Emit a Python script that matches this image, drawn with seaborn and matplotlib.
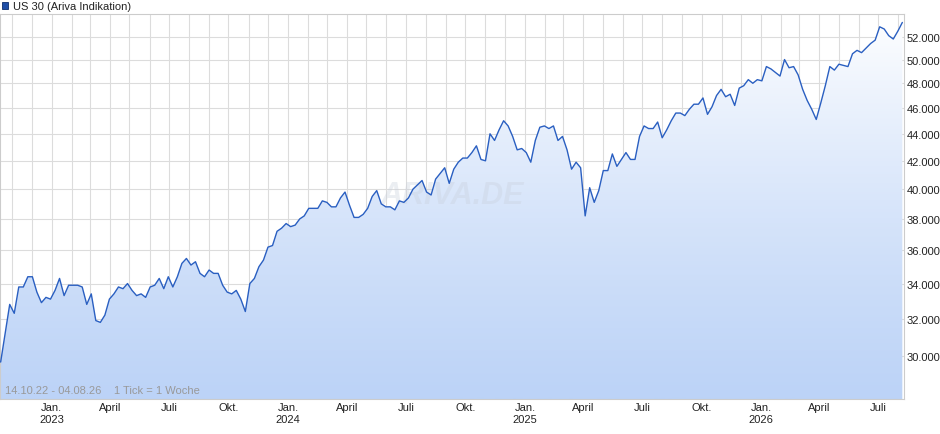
import numpy as np
import pandas as pd
import matplotlib
matplotlib.use("Agg")
import matplotlib.pyplot as plt
import matplotlib.dates as mdates
from matplotlib.ticker import FixedLocator, FuncFormatter, NullFormatter
from matplotlib.colors import LinearSegmentedColormap
import seaborn as sns

start_date = "2022-10-14"
values_k = [
 29.7, 31.2, 32.8, 32.3, 33.8, 33.8, 34.4, 34.4, 33.5, 32.9, 33.2, 33.1, 33.6, 34.3, 33.3, 33.9, 33.9, 33.9, 33.8, 32.8,
 33.4, 31.9, 31.8, 32.2, 33.1, 33.4, 33.8, 33.7, 34.0, 33.6, 33.3, 33.4, 33.2, 33.8, 33.9, 34.3, 33.7, 34.4, 33.8, 34.4,
 35.2, 35.5, 35.1, 35.3, 34.6, 34.4, 34.8, 34.6, 34.6, 33.9, 33.5, 33.4, 33.6,
 33.1, 32.4, 34.0, 34.3, 35.0, 35.4, 36.2, 36.3, 37.2, 37.4, 37.7, 37.5, 37.6, 38.0, 38.2, 38.7, 38.7, 38.7, 39.2, 39.1,
 38.8, 38.8, 39.4, 39.8, 38.9, 38.1, 38.1, 38.3, 38.7, 39.5, 39.9, 39.0, 38.8, 38.8, 38.6, 39.2, 39.1, 39.4, 40.0, 40.3,
 40.6, 39.8, 39.6, 40.7, 41.1, 41.5, 40.4, 41.4, 41.9, 42.2, 42.2,
 42.6, 43.1, 42.1, 42.0, 44.0, 43.5, 44.3, 45.0, 44.6, 43.8, 42.8, 42.9, 42.6, 41.9, 43.5, 44.5, 44.6, 44.4, 44.6, 43.5,
 43.8, 42.8, 41.4, 41.9, 41.5, 38.2, 40.1, 39.1, 39.9, 41.3, 41.3, 42.5, 41.6, 42.1, 42.6, 42.1, 42.1, 43.8, 44.6, 44.4,
 44.4, 44.9, 43.7, 44.3, 45.0, 45.6, 45.6, 45.4, 45.9, 46.3, 46.3,
 46.8, 45.5, 46.1, 47.0, 47.5, 46.9, 47.1, 46.2, 47.6, 47.8, 48.3, 48.0, 48.3, 48.2, 49.4, 49.2, 48.9, 48.6, 50.0, 49.3,
 49.4, 48.7, 47.5, 46.6, 45.9, 45.1, 46.4, 47.8, 49.4, 49.1, 49.6, 49.5, 49.4, 50.5, 50.8, 50.6, 51.0, 51.4, 51.7, 52.9,
 52.7, 52.1, 51.8, 52.5, 53.3]
y_ticks = [30000, 32000, 34000, 36000, 38000, 40000, 42000, 44000, 46000, 48000, 50000, 52000]

dates = pd.date_range(start_date, periods=len(values_k), freq="7D")
df = pd.DataFrame({"date": dates, "value": np.array(values_k) * 1000})

sns.set_style("white")
plt.rcParams["font.family"] = ["Liberation Sans", "DejaVu Sans"]
fig = plt.figure(figsize=(9.4, 4.35), dpi=100)
ax = fig.add_axes([0.0, 0.08, 0.962, 0.886])
ax.set_yscale("log")
ymin, ymax = 27860, 54100
xmin = mdates.date2num(pd.Timestamp("2022-10-13"))
xmax = mdates.date2num(pd.Timestamp("2026-08-10"))
ax.set_xlim(xmin, xmax)
ax.set_ylim(ymin, ymax)

xs = mdates.date2num(df["date"])
poly = ax.fill_between(xs, df["value"], ymin, color="none", lw=0)
grad = np.linspace(0, 1, 256).reshape(-1, 1)
cmap = LinearSegmentedColormap.from_list("g", ["#bcd3f7", "#ffffff"])
im = ax.imshow(grad, aspect="auto", cmap=cmap, origin="lower",
               extent=[xmin, xmax, ymin, ymax], zorder=1)
im.set_clip_path(poly.get_paths()[0], transform=ax.transData)
sns.lineplot(x=xs, y=df["value"].values, ax=ax, color="#2a5fc1", lw=1.0, zorder=3)

months = pd.date_range("2022-11-01", "2026-08-01", freq="MS")
ax.xaxis.set_minor_locator(FixedLocator(mdates.date2num(months)))
majors = [m for m in months if m.month in (1, 4, 7, 10)]
ax.xaxis.set_major_locator(FixedLocator(mdates.date2num(majors)))
names = {1: "Jan.", 4: "April", 7: "Juli", 10: "Okt."}
ax.set_xticklabels([names[m.month] + ("\n%d" % m.year if m.month == 1 else "") for m in majors])
ax.xaxis.set_minor_formatter(NullFormatter())
ax.grid(True, which="both", axis="x", color="#dcdcdc", lw=0.8, zorder=2)
ax.yaxis.set_major_locator(FixedLocator(y_ticks))
ax.yaxis.set_minor_locator(FixedLocator([]))
ax.yaxis.set_major_formatter(FuncFormatter(lambda v, p: f"{int(v):,}".replace(",", ".")))
ax.grid(True, which="major", axis="y", color="#dcdcdc", lw=0.8, zorder=2)
ax.yaxis.tick_right()
ax.tick_params(axis="both", labelsize=8, colors="#222222", length=0, pad=2)
for s in ax.spines.values():
    s.set_color("#cccccc")
    s.set_linewidth(0.8)
ax.set_xlabel("")
ax.set_ylabel("")

ax.text(0.5, 0.53, "ARIVA.DE", transform=ax.transAxes, fontsize=22, fontstyle="italic",
        fontweight="bold", color="#c8d0dc", alpha=0.35, ha="center", va="center", zorder=2)
ax.text(0.006, 0.012, "14.10.22 - 04.08.26    1 Tick = 1 Woche", transform=ax.transAxes,
        fontsize=8, color="#999999", ha="left", va="bottom", zorder=4)
fig.patches.append(plt.Rectangle((0.002, 0.976), 0.007, 0.016, transform=fig.transFigure,
                                 facecolor="#1f4fa8", edgecolor="#0d2f6e", lw=0.6))
fig.text(0.014, 0.984, "US 30 (Ariva Indikation)", fontsize=8, color="#222222", va="center")

fig.savefig("out.png", dpi=100)
